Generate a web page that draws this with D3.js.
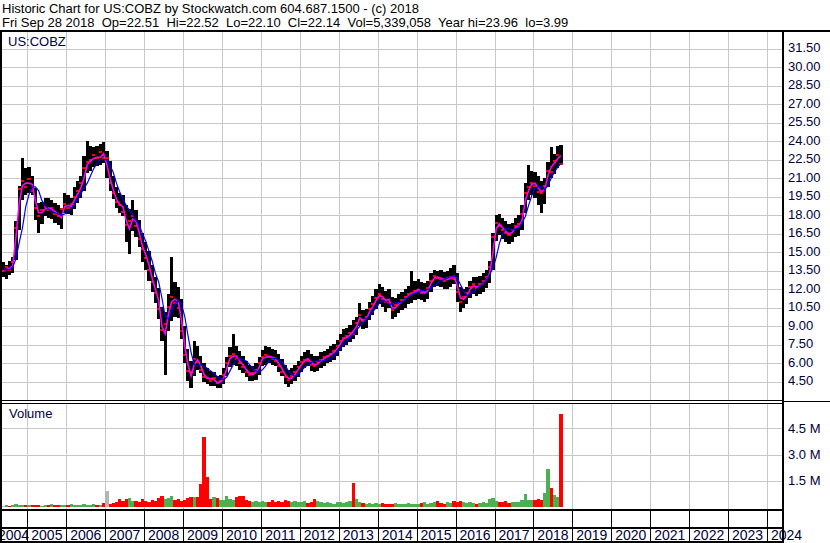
<!DOCTYPE html>
<html>
<head>
<meta charset="utf-8">
<script src="https://cdn.jsdelivr.net/npm/d3@7"></script>
<style>
  body { margin: 0; background: #fff; }
  text { font-family: Arial, "Liberation Sans", sans-serif; }
</style>
</head>
<body>
<div id="viz-container"></div>
<script>
// Monthly bars, May 2004 .. Sep 2018
const firstMonth = new Date(2004, 4, 1);

const barHigh = [
  14.2, 14.0, 14.3, 14.6, 17.5, 20.4, 22.6, 21.8,
  21.9, 21.2, 20.2, 19.0, 19.1, 19.4, 19.4, 19.2, 19.0, 18.8, 18.6, 19.8,
  19.6, 19.4, 20.3, 20.8, 21.2, 22.8, 24.0, 23.6, 23.5, 23.6, 23.8, 23.9,
  23.2, 22.4, 21.2, 20.3, 19.8, 19.6, 18.8, 18.5, 19.2, 18.4, 17.6, 16.6,
  15.8, 15.1, 14.0, 13.0, 12.1, 10.6, 10.2, 11.6, 14.6, 12.6, 12.2, 11.2,
  9.0, 7.2, 6.2, 7.8, 7.4, 6.6, 6.0, 5.6, 5.4, 5.3, 5.0, 5.1,
  5.6, 6.5, 7.3, 8.4, 7.4, 7.0, 6.6, 6.2, 5.9, 5.8, 6.0, 6.5,
  7.1, 7.4, 7.3, 7.2, 7.1, 6.8, 6.4, 5.9, 5.5, 5.6, 5.9, 6.2,
  6.6, 6.9, 7.1, 6.8, 6.6, 6.6, 6.9, 7.0, 7.2, 7.4, 7.6, 7.9,
  8.4, 8.8, 8.9, 9.1, 9.5, 9.8, 10.9, 10.3, 10.4, 11.0, 11.5, 12.0,
  12.4, 12.2, 11.9, 12.0, 11.4, 11.3, 11.6, 11.8, 12.0, 12.3, 13.5, 12.7,
  12.8, 12.6, 12.5, 12.7, 13.3, 13.6, 13.5, 13.6, 13.4, 13.5, 13.7, 14.0,
  13.3, 12.2, 12.0, 12.2, 12.7, 13.0, 13.0, 13.1, 13.3, 13.6, 14.3, 16.6,
  18.0, 18.1, 17.8, 17.5, 17.3, 17.4, 17.8, 18.0, 18.8, 20.6, 22.1, 21.6,
  21.5, 21.2, 20.8, 21.0, 22.3, 23.5, 23.0, 23.6, 23.7
];
const barLow = [
  13.0, 12.8, 13.2, 13.3, 14.4, 16.8, 19.2, 19.6,
  19.8, 19.6, 17.6, 16.6, 17.3, 17.9, 17.8, 17.7, 17.4, 17.2, 16.9, 18.2,
  18.1, 18.0, 18.5, 19.0, 19.4, 20.0, 21.4, 21.6, 21.9, 22.0, 22.1, 22.2,
  21.0, 20.0, 19.3, 18.6, 18.2, 17.9, 15.8, 14.9, 16.7, 16.2, 15.4, 14.2,
  13.6, 12.7, 11.8, 10.9, 9.6, 7.8, 5.1, 8.6, 9.4, 9.8, 9.7, 8.0,
  6.0, 4.6, 4.0, 5.0, 5.5, 5.2, 4.5, 4.3, 4.2, 4.2, 4.0, 3.99,
  4.3, 5.0, 5.7, 5.9, 5.8, 5.5, 5.2, 4.9, 4.6, 4.6, 4.7, 5.1,
  5.8, 5.9, 6.0, 5.9, 5.8, 5.3, 5.0, 4.3, 4.1, 4.3, 4.6, 4.9,
  5.3, 5.6, 5.8, 5.4, 5.3, 5.4, 5.6, 5.8, 6.0, 6.1, 6.3, 6.6,
  7.0, 7.3, 7.5, 7.7, 8.0, 8.3, 9.0, 8.8, 8.9, 9.5, 9.9, 10.4,
  10.8, 10.6, 10.2, 10.5, 9.6, 9.8, 10.1, 10.3, 10.5, 10.8, 10.9, 11.1,
  11.2, 11.1, 11.0, 11.2, 11.8, 12.2, 12.3, 12.2, 12.0, 12.0, 12.2, 12.4,
  11.0, 10.2, 10.5, 10.8, 11.3, 11.6, 11.5, 11.6, 11.8, 12.1, 12.5, 13.6,
  15.9, 16.4, 16.1, 15.8, 15.7, 15.8, 16.2, 16.3, 16.8, 18.2, 19.2, 19.6,
  19.4, 18.8, 18.2, 18.9, 20.3, 21.0, 21.3, 21.8, 22.1
];
const barClose = [
  13.5, 13.8, 13.6, 14.2, 17.0, 20.1, 20.8, 20.3,
  20.9, 20.0, 18.6, 17.9, 18.4, 18.7, 18.4, 18.6, 18.1, 17.9, 18.5, 18.9,
  18.6, 18.9, 19.5, 20.0, 20.6, 21.8, 22.3, 22.5, 22.9, 22.6, 23.1, 22.6,
  22.6, 20.6, 19.8, 19.1, 18.8, 18.3, 17.2, 17.5, 17.9, 17.1, 16.1, 15.3,
  14.5, 13.6, 12.6, 11.7, 10.4, 8.7, 9.2, 10.6, 11.4, 10.9, 10.5, 8.6,
  6.7, 5.4, 5.3, 6.4, 6.1, 5.5, 4.9, 4.85, 4.6, 4.8, 4.4, 4.6,
  5.1, 6.0, 6.6, 6.8, 6.4, 6.0, 5.7, 5.3, 5.1, 5.2, 5.5, 6.0,
  6.5, 6.7, 6.5, 6.4, 6.2, 5.8, 5.3, 4.9, 4.7, 5.0, 5.3, 5.7,
  6.1, 6.3, 6.2, 5.9, 5.8, 6.1, 6.3, 6.5, 6.6, 6.8, 7.0, 7.4,
  7.8, 8.1, 8.2, 8.5, 8.4, 9.3, 9.9, 9.4, 9.8, 10.4, 10.8, 11.3,
  11.6, 11.2, 11.0, 10.9, 10.3, 10.7, 10.9, 11.1, 11.4, 11.6, 11.7, 11.9,
  11.95, 11.7, 11.8, 12.1, 12.7, 13.1, 12.9, 12.8, 12.7, 12.9, 13.0, 12.8,
  11.8, 11.0, 11.4, 11.7, 12.2, 12.4, 12.1, 12.4, 12.7, 13.0, 13.8, 16.2,
  17.4, 17.1, 16.8, 16.6, 16.4, 16.8, 17.1, 17.3, 18.1, 19.8, 20.3, 20.6,
  20.4, 19.9, 19.8, 20.4, 21.6, 21.5, 22.4, 22.9, 22.14
];
// magenta (short) and blue (long) moving averages
const maShort = [
  13.6, 13.6, 13.7, 13.9, 16.3, 19.0, 20.4, 20.6,
  20.6, 20.5, 19.2, 18.2, 18.2, 18.5, 18.6, 18.5, 18.3, 18.1, 17.8, 18.7,
  18.8, 18.7, 19.2, 19.7, 20.2, 21.0, 22.1, 22.4, 22.6, 22.7, 22.7, 23.0,
  22.1, 21.0, 20.1, 19.3, 18.9, 18.7, 17.6, 16.9, 17.7, 17.5, 16.6, 15.5,
  14.8, 14.0, 12.9, 12.0, 11.1, 9.0, 8.4, 10.0, 11.0, 11.2, 11.0, 9.5,
  7.4, 5.9, 5.0, 5.9, 6.3, 5.8, 5.1, 4.8, 4.75, 4.7, 4.45, 4.5,
  4.8, 5.6, 6.4, 6.6, 6.6, 6.2, 5.9, 5.5, 5.2, 5.1, 5.3, 5.7,
  6.4, 6.5, 6.6, 6.5, 6.4, 6.0, 5.6, 5.1, 4.8, 4.8, 5.1, 5.5,
  5.9, 6.2, 6.4, 6.1, 5.9, 5.95, 6.2, 6.4, 6.55, 6.7, 6.9, 7.2,
  7.6, 8.0, 8.1, 8.3, 8.6, 9.0, 9.7, 9.5, 9.6, 10.2, 10.6, 11.1,
  11.5, 11.4, 11.1, 11.2, 10.5, 10.5, 10.8, 11.0, 11.2, 11.5, 11.6, 11.8,
  12.0, 11.8, 11.7, 11.9, 12.5, 12.9, 13.0, 12.9, 12.8, 12.8, 12.9, 13.1,
  12.3, 11.3, 11.2, 11.5, 12.0, 12.3, 12.2, 12.3, 12.5, 12.8, 13.3, 15.0,
  16.9, 17.3, 17.0, 16.7, 16.5, 16.6, 17.0, 17.1, 17.6, 19.2, 20.0, 20.5,
  20.6, 20.2, 19.9, 20.1, 21.2, 21.9, 22.2, 22.6, 22.8
];
const maLong = [
  13.6, 13.6, 13.6, 13.8, 14.5, 15.8, 17.0, 18.7,
  19.7, 20.3, 20.3, 20.0, 19.2, 18.8, 18.5, 18.3, 18.2, 18.1, 18.0, 18.1,
  18.3, 18.5, 18.9, 19.2, 19.7, 20.2, 20.6, 21.2, 21.8, 22.2, 22.5, 22.5,
  22.5, 22.0, 21.5, 20.6, 19.9, 19.3, 18.8, 18.4, 18.1, 17.6, 17.2, 16.5,
  15.9, 15.1, 14.3, 13.3, 12.6, 11.3, 9.8, 9.6, 10.2, 10.8, 11.1, 10.8,
  9.8, 8.3, 6.9, 5.9, 5.8, 5.9, 5.8, 5.6, 5.4, 5.2, 4.95, 4.75,
  4.7, 4.9, 5.4, 5.9, 6.3, 6.4, 6.3, 6.2, 5.9, 5.6, 5.4, 5.3,
  5.5, 5.8, 6.2, 6.4, 6.4, 6.3, 6.1, 5.8, 5.4, 5.1, 4.95, 5.1,
  5.4, 5.7, 5.9, 6.1, 6.2, 6.2, 6.2, 6.2, 6.3, 6.4, 6.6, 6.9,
  7.2, 7.5, 7.8, 8.1, 8.4, 8.7, 9.0, 9.3, 9.6, 9.9, 10.2, 10.5,
  10.9, 11.1, 11.0, 10.8, 10.8, 10.9, 10.9, 11.0, 11.2, 11.4, 11.6, 11.7,
  11.8, 11.9, 11.95, 12.0, 12.1, 12.3, 12.5, 12.7, 12.8, 12.9, 13.0, 13.1,
  12.9, 12.4, 11.9, 11.5, 11.6, 11.8, 12.0, 12.3, 12.5, 12.8, 13.2, 13.7,
  14.6, 15.7, 16.5, 16.9, 16.9, 16.8, 16.9, 17.0, 17.4, 17.9, 18.8, 19.6,
  20.2, 20.3, 20.3, 20.1, 20.4, 21.0, 21.5, 21.9, 22.2
];
// volume, millions of shares
const volume = [
  0.08, 0.10, 0.07, 0.12, 0.15, 0.10, 0.12, 0.10,
  0.10, 0.12, 0.14, 0.10, 0.08, 0.12, 0.10, 0.15, 0.10, 0.12, 0.09, 0.11,
  0.10, 0.15, 0.12, 0.10, 0.12, 0.20, 0.14, 0.12, 0.18, 0.10, 0.12, 0.25,
  0.91, 0.20, 0.25, 0.30, 0.45, 0.35, 0.43, 0.53, 0.35, 0.35, 0.30, 0.45,
  0.35, 0.30, 0.40, 0.35, 0.50, 0.64, 0.45, 0.50, 0.64, 0.40, 0.45, 0.35,
  0.40, 0.50, 0.60, 0.55, 0.60, 1.30, 4.00, 1.70, 0.45, 0.55, 0.50, 0.40,
  0.40, 0.62, 0.45, 0.40, 0.55, 0.64, 0.64, 0.40, 0.35, 0.30, 0.35, 0.30,
  0.35, 0.30, 0.30, 0.40, 0.30, 0.35, 0.30, 0.40, 0.35, 0.30, 0.35, 0.30,
  0.30, 0.35, 0.25, 0.30, 0.45, 0.35, 0.30, 0.25, 0.30, 0.25, 0.20, 0.30,
  0.30, 0.25, 0.30, 0.35, 1.40, 0.45, 0.30, 0.25, 0.20, 0.25, 0.20, 0.25,
  0.20, 0.25, 0.20, 0.15, 0.20, 0.25, 0.20, 0.15, 0.20, 0.25, 0.20, 0.20,
  0.20, 0.25, 0.30, 0.20, 0.25, 0.30, 0.35, 0.25, 0.20, 0.30, 0.25, 0.35,
  0.30, 0.35, 0.30, 0.25, 0.30, 0.25, 0.20, 0.25, 0.30, 0.25, 0.45, 0.50,
  0.35, 0.30, 0.30, 0.35, 0.25, 0.30, 0.30, 0.30, 0.40, 0.74, 0.40, 0.40,
  0.40, 0.45, 0.40, 0.80, 2.17, 1.10, 0.70, 0.55, 5.34
];

const priceTicks = [4.5, 6, 7.5, 9, 10.5, 12, 13.5, 15, 16.5, 18, 19.5, 21, 22.5, 24, 25.5, 27, 28.5, 30, 31.5];
const volTicks = [1.5, 3, 4.5];
const yearLabels = ['2004', '2005', '2006', '2007', '2008', '2009', '2010', '2011', '2012', '2013',
  '2014', '2015', '2016', '2017', '2018', '2019', '2020', '2021', '2022', '2023', '2024'];

const headerLines = [
  'Historic Chart for US:COBZ by Stockwatch.com 604.687.1500 - (c) 2018',
  'Fri Sep 28 2018  Op=22.51  Hi=22.52  Lo=22.10  Cl=22.14  Vol=5,339,058  Year hi=23.96  lo=3.99'
];
const symbol = 'US:COBZ';

// --- layout ---
const W = 830, H = 543;
const axisX = 782;          // right axis line
const priceTop = 31, priceBottom = 400;
const volTop = 404, volBottom = 509;
const labelColor = '#00003c';
const gridColor = '#c8c8c8';

const months = barHigh.map((d, i) => new Date(2004, 4 + i, 1));
const monthEnd = d => new Date(d.getFullYear(), d.getMonth() + 1, 1);

const x = d3.scaleTime()
  .domain([new Date(2004, 0, 1), new Date(2024, 0, 1)])
  .range([-11.6, 767]);
const y = d3.scaleLinear().domain([3, 33]).range([400.5, 30]);
const yVol = d3.scaleLinear().domain([0, 6]).range([507, 402.2]);

const yearStart = s => new Date(+s, 0, 1);
const crisp = v => Math.round(v) + 0.5;

const svg = d3.select('#viz-container')
  .append('svg')
  .attr('width', W)
  .attr('height', H)
  .style('display', 'block')
  .style('background', '#fff');

// --- grid ---
const grid = svg.append('g').attr('shape-rendering', 'crispEdges');

grid.selectAll('.hgrid')
  .data(priceTicks).enter()
  .append('line')
  .attr('x1', 2).attr('x2', axisX)
  .attr('y1', d => crisp(y(d))).attr('y2', d => crisp(y(d)))
  .style('stroke', gridColor);

grid.selectAll('.vgrid')
  .data(yearLabels.slice(1)).enter()
  .append('line')
  .attr('x1', d => crisp(x(yearStart(d)))).attr('x2', d => crisp(x(yearStart(d))))
  .attr('y1', priceTop).attr('y2', priceBottom)
  .style('stroke', gridColor);

grid.selectAll('.vhgrid')
  .data(volTicks).enter()
  .append('line')
  .attr('x1', 2).attr('x2', axisX)
  .attr('y1', d => crisp(yVol(d))).attr('y2', d => crisp(yVol(d)))
  .style('stroke', gridColor);

grid.selectAll('.vvgrid')
  .data(yearLabels.slice(1)).enter()
  .append('line')
  .attr('x1', d => crisp(x(yearStart(d)))).attr('x2', d => crisp(x(yearStart(d))))
  .attr('y1', volTop).attr('y2', volBottom)
  .style('stroke', gridColor);

// --- price bars ---
const bars = svg.append('g').attr('shape-rendering', 'crispEdges');
bars.selectAll('rect')
  .data(months).enter()
  .append('rect')
  .attr('x', d => x(d))
  .attr('width', d => x(monthEnd(d)) - x(d))
  .attr('y', (d, i) => y(barHigh[i]))
  .attr('height', (d, i) => y(barLow[i]) - y(barHigh[i]))
  .style('fill', '#000');

// close ticks
bars.selectAll('.tick')
  .data(months).enter()
  .append('rect')
  .attr('x', d => x(d))
  .attr('width', d => x(monthEnd(d)) - x(d))
  .attr('y', (d, i) => y(barClose[i]) - 1)
  .attr('height', 2)
  .style('fill', '#ff0000');

// --- moving averages ---
const mid = d => (x(d) + x(monthEnd(d))) / 2;
const maLine = arr => d3.line()
  .x(d => mid(d))
  .y((d, i) => y(arr[i]))(months);

svg.append('path')
  .attr('d', maLine(maShort))
  .style('fill', 'none')
  .style('stroke', '#ff00ff')
  .style('stroke-width', 1.6);

svg.append('path')
  .attr('d', maLine(maLong))
  .style('fill', 'none')
  .style('stroke', '#0000ff')
  .style('stroke-width', 1.2);

// --- volume ---
const volColor = i => {
  if (i === 0 || barClose[i] === barClose[i - 1]) return '#b4b4b4';
  return barClose[i] > barClose[i - 1] ? '#4caf50' : '#ff0000';
};
svg.append('g').attr('shape-rendering', 'crispEdges')
  .selectAll('rect')
  .data(months).enter()
  .append('rect')
  .attr('x', d => x(d))
  .attr('width', d => x(monthEnd(d)) - x(d))
  .attr('y', (d, i) => yVol(volume[i]))
  .attr('height', (d, i) => yVol(0) - yVol(volume[i]))
  .style('fill', (d, i) => volColor(i));

// --- texts ---
svg.selectAll('.header')
  .data(headerLines).enter()
  .append('text')
  .attr('x', 2)
  .attr('y', (d, i) => 12.5 + i * 14.7)
  .style('font-size', '13px')
  .style('white-space', 'pre')
  .style('fill', '#000')
  .text(d => d);

svg.append('text')
  .attr('x', 8).attr('y', 46)
  .style('font-size', '13px')
  .style('fill', labelColor)
  .text(symbol);

svg.append('text')
  .attr('x', 9).attr('y', 418)
  .style('font-size', '13px')
  .style('fill', labelColor)
  .text('Volume');

svg.selectAll('.plabel')
  .data(priceTicks).enter()
  .append('text')
  .attr('x', 788)
  .attr('y', d => y(d) + 3.5)
  .style('font-size', '13px')
  .style('fill', labelColor)
  .text(d => d.toFixed(2));

svg.selectAll('.vlabel')
  .data(volTicks).enter()
  .append('text')
  .attr('x', 788)
  .attr('y', d => yVol(d) + 4.5)
  .style('font-size', '13px')
  .style('fill', labelColor)
  .text(d => d.toFixed(1) + ' M');

// year labels centred in their cell; the first one tucks just under the left
// frame as in the original, the last one is pushed left so it does not overlap
let prevRight = -2;
svg.selectAll('.ylabel')
  .data(yearLabels).enter()
  .append('text')
  .attr('y', 539.5)
  .style('font-size', '14px')
  .style('fill', labelColor)
  .text(d => d)
  .each(function (d) {
    const w = this.getComputedTextLength();
    const cx = (x(yearStart(d)) + x(new Date(+d + 1, 0, 1))) / 2;
    let left = Math.max(cx - w / 2, prevRight);
    if (left + w > W - 2) left = W - 2 - w;
    prevRight = left + w + 0.5;
    d3.select(this).attr('x', left);
  });

// --- frame (drawn last so it sits over bars and labels) ---
const frame = svg.append('g').attr('shape-rendering', 'crispEdges').style('fill', '#000');
frame.append('rect').attr('x', 0).attr('y', 29.5).attr('width', W).attr('height', 2);
frame.append('rect').attr('x', 0).attr('y', 30).attr('width', 2).attr('height', H - 30);
frame.append('rect').attr('x', 0).attr('y', 400).attr('width', axisX).attr('height', 1);
frame.append('rect').attr('x', 0).attr('y', 403).attr('width', axisX).attr('height', 1);
frame.append('rect').attr('x', axisX).attr('y', 401).attr('width', W - axisX).attr('height', 1);
frame.append('rect').attr('x', 0).attr('y', 509).attr('width', axisX).attr('height', 2);
frame.append('rect').attr('x', 0).attr('y', 527).attr('width', axisX).attr('height', 2);
frame.append('rect').attr('x', 0).attr('y', 540.5).attr('width', axisX).attr('height', 2);

// year separators in the date band
frame.selectAll('.ysep')
  .data(yearLabels.slice(1)).enter()
  .append('rect')
  .attr('x', d => Math.round(x(yearStart(d))))
  .attr('y', 510)
  .attr('width', 1)
  .attr('height', 31);

// right axis line
frame.append('rect').attr('x', axisX).attr('y', 30).attr('width', 2).attr('height', H - 30);
</script>
</body>
</html>
